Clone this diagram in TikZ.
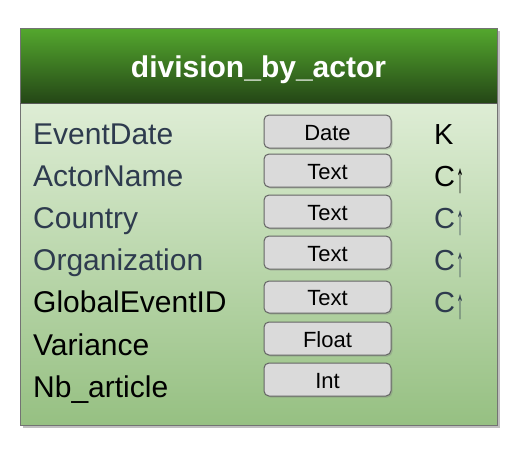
\documentclass[tikz,border=0pt]{standalone}
\usepackage{fontspec}
\setmainfont{Liberation Sans}
\usetikzlibrary{shadows}
\definecolor{slate}{RGB}{46,59,78}
\definecolor{hdtop}{RGB}{84,168,46}
\definecolor{hdbot}{RGB}{36,70,22}
\definecolor{bdtop}{RGB}{222,237,213}
\definecolor{bdbot}{RGB}{150,192,130}
\definecolor{boxfill}{RGB}{218,218,218}
\definecolor{boxline}{RGB}{100,100,100}
\tikzset{
  x=1pt, y=-1pt,
  lbl/.style={anchor=base west, inner sep=0pt, font=\fontsize{30}{30}\selectfont},
  key/.style={anchor=base west, inner sep=0pt, font=\fontsize{29}{29}\selectfont},
  typ/.style={anchor=base, inner sep=0pt, font=\fontsize{22}{22}\selectfont},
  typbox/.style={draw=boxline, line width=1pt, fill=boxfill, rounded corners=5pt,
    drop shadow={shadow xshift=1.5pt, shadow yshift=-1.5pt, opacity=0.35}},
}
\newcommand{\Cup}{C\hspace{1.5pt}{\fontsize{20}{20}\selectfont\raisebox{-6pt}{\scalebox{0.8}[2.1]{↑}}}}
\begin{document}
\begin{tikzpicture}
\useasboundingbox (0,0) rectangle (517,461);
% outer shadow
\fill[black, opacity=0.25] (22.5,30.5) rectangle (500,428);
% header and body
\shade[top color=hdtop, bottom color=hdbot] (20,28) rectangle (497,103);
\shade[top color=bdtop, bottom color=bdbot] (20,103) rectangle (497,425);
\draw[draw=gray!90!black, line width=1pt] (20,28) rectangle (497,425);
\draw[draw=gray!70!black, line width=0.8pt] (20,103) -- (497,103);
\node[anchor=base, inner sep=0pt, text=white, font=\bfseries\fontsize{30}{30}\selectfont] (title) at (258.5,77) {division\_by\_actor};
% labels
\node[lbl, text=slate] (l1) at (33,144.7) {EventDate};
\node[lbl, text=slate] (l2) at (33,186.8) {ActorName};
\node[lbl, text=slate] (l3) at (33,228.8) {Country};
\node[lbl, text=slate] (l4) at (33,270.9) {Organization};
\node[lbl, text=black] (l5) at (33,312.9) {GlobalEventID};
\node[lbl, text=black] (l6) at (33,355.0) {Variance};
\node[lbl, text=black] (l7) at (33,397.0) {Nb\_article};
% type boxes
\path[typbox] (264,115) rectangle (391,148);
\path[typbox] (264,154) rectangle (391,187);
\path[typbox] (264,195) rectangle (391,228);
\path[typbox] (264,236) rectangle (391,269);
\path[typbox] (264,281) rectangle (391,313);
\path[typbox] (264,322) rectangle (391,355);
\path[typbox] (264,363) rectangle (391,396);
\node[typ] (t1) at (327.5,140.7) {Date};
\node[typ] (t2) at (327.5,179.7) {Text};
\node[typ] (t3) at (327.5,220.7) {Text};
\node[typ] (t4) at (327.5,261.7) {Text};
\node[typ] (t5) at (327.5,305.7) {Text};
\node[typ] (t6) at (327.5,347.7) {Float};
\node[typ] (t7) at (327.5,388.7) {Int};
% keys
\node[key, text=black] (k1) at (434,144.7) {K};
\node[key, text=black] (k2) at (434,186.8) {\Cup};
\node[key, text=slate] (k3) at (434,228.8) {\Cup};
\node[key, text=slate] (k4) at (434,270.9) {\Cup};
\node[key, text=slate] (k5) at (434,312.9) {\Cup};
\end{tikzpicture}
\end{document}
